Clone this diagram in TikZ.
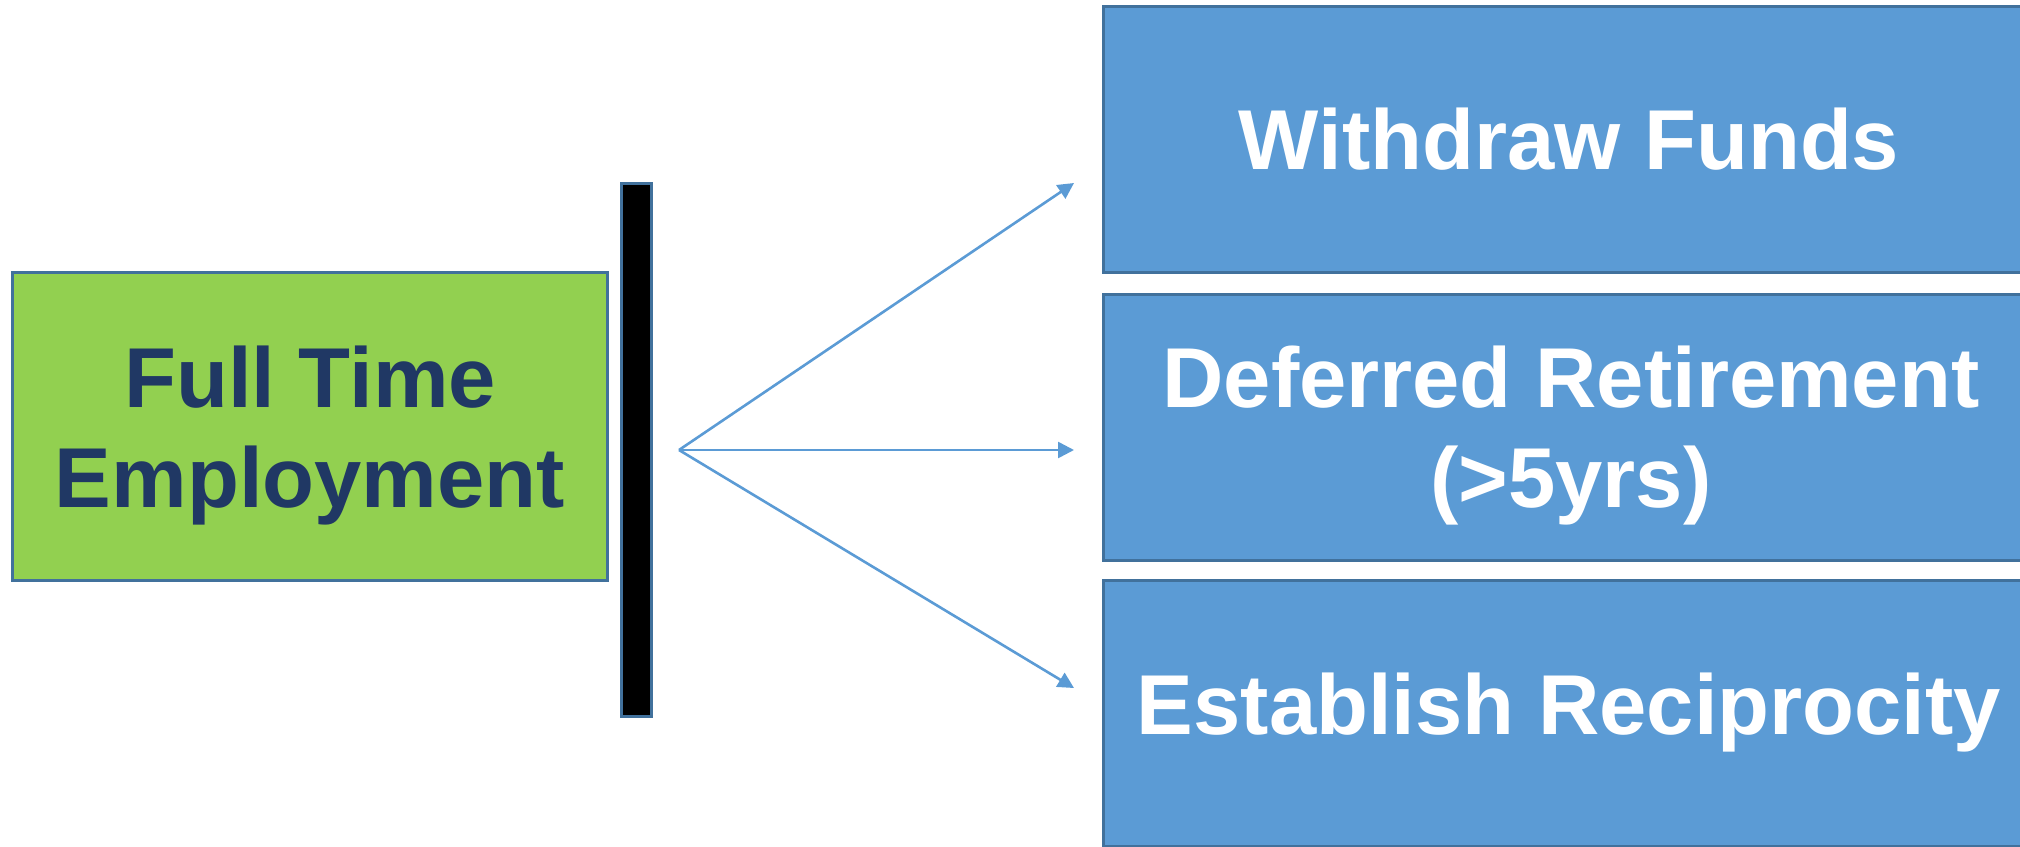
\documentclass[tikz,border=0pt]{standalone}
\usepackage{fontspec}
\setmainfont{Liberation Sans}
\usetikzlibrary{arrows.meta,positioning}
\definecolor{boxblue}{HTML}{5B9BD5}
\definecolor{edgeblue}{HTML}{41719C}
\definecolor{boxgreen}{HTML}{92D050}
\definecolor{darknavy}{HTML}{203864}

\tikzset{
  bigtext/.style={font=\fontsize{85}{100}\selectfont\bfseries, align=center},
  choice/.style={bigtext, draw=edgeblue, line width=3pt, fill=boxblue, text=white,
    minimum width=932pt, minimum height=266pt, inner sep=0pt},
  status/.style={bigtext, draw=edgeblue, line width=3pt, fill=boxgreen, text=darknavy,
    minimum width=595pt, minimum height=308pt, inner sep=0pt},
  fork/.style={draw=boxblue, line width=2.6pt, -{Triangle[length=16pt,width=16pt]}}
}

\begin{document}
\begin{tikzpicture}[x=1pt,y=-1pt]
  \useasboundingbox (0,0) rectangle (2020,846);

  % Starting point
  \node[status] (employ) at (309.5,426) {};
  \node[bigtext, text=darknavy] (employtxt) at (310,436) {Full Time\\Employment};

  % Separation bar
  \node[draw=edgeblue, line width=3pt, fill=black, minimum width=30pt,
        minimum height=533pt, inner sep=0pt] (bar) at (636,449.5) {};

  % Options
  \node[choice] (withdraw) at (1569,139.5) {Withdraw Funds};
  \node[choice] (deferred) at (1569,427) {};
  \node[bigtext, text=white] (deferredtxt) at (1571,436) {Deferred Retirement\\(>5yrs)};
  \node[choice] (recip) at (1569,713) {Establish Reciprocity};

  % Arrows out of the split
  \coordinate (split) at (679,450);
  \coordinate (toW) at (1074,183);
  \coordinate (toD) at (1074,450);
  \coordinate (toR) at (1074,688);
  \draw[fork] (split) -- (toW);
  \draw[fork] (split) -- (toD);
  \draw[fork] (split) -- (toR);
\end{tikzpicture}
\end{document}
